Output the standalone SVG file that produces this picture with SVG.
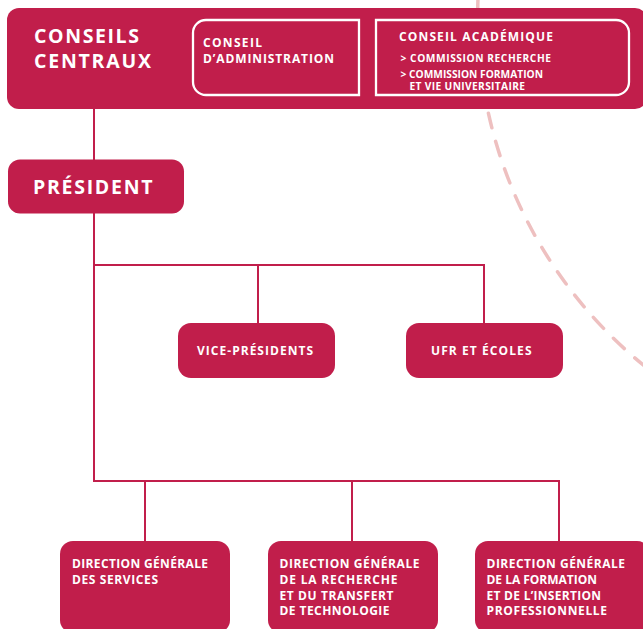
<svg xmlns="http://www.w3.org/2000/svg" width="643" height="629" viewBox="0 0 643 629">
<style>
.box{fill:#c11e4b;}
.in{fill:none;stroke:#ffffff;stroke-width:2.3;}
.ln{fill:none;stroke:#c11e4b;stroke-width:2;}
.dash{fill:none;stroke:#eec0c0;stroke-width:3.5;stroke-dasharray:15 14;stroke-linecap:round;}
text{font-family:"Open Sans","Liberation Sans",sans-serif;font-weight:700;fill:#ffffff;}
.big{font-size:19.5px;}
.mid{font-size:12px;}
.sm{font-size:10.2px;}
</style>
<rect width="643" height="629" fill="#ffffff"/>
<path class="dash" d="M 478 -2 A 452 452 0 0 0 652 372"/>
<g id="connectors">
<line class="ln" x1="94" y1="105" x2="94" y2="162"/>
<polyline class="ln" points="94,210 94,481 559,481 559,543"/>
<polyline class="ln" points="94,265 484,265 484,325"/>
<line class="ln" x1="258" y1="265" x2="258" y2="325"/>
<line class="ln" x1="145" y1="481" x2="145" y2="543"/>
<line class="ln" x1="352" y1="481" x2="352" y2="543"/>
</g>
<g id="conseils-centraux">
<rect class="box" x="7" y="8" width="640" height="101" rx="12"/>
<text class="big" x="34" y="43" textLength="105" lengthAdjust="spacing">CONSEILS</text>
<text class="big" x="34" y="68" textLength="117" lengthAdjust="spacing">CENTRAUX</text>
</g>
<g id="conseil-administration">
<path class="in" d="M 206 20 H 359 V 95 H 206 A 13 13 0 0 1 193 82 V 33 A 13 13 0 0 1 206 20 Z"/>
<text class="mid" x="203" y="46.5" textLength="59" lengthAdjust="spacing">CONSEIL</text>
<text class="mid" x="203" y="63" textLength="131" lengthAdjust="spacing">D’ADMINISTRATION</text>
</g>
<g id="conseil-academique">
<path class="in" d="M 376 20 H 616 A 13 13 0 0 1 629 33 V 82 A 13 13 0 0 1 616 95 H 376 Z"/>
<text class="mid" x="399" y="41" textLength="154" lengthAdjust="spacing">CONSEIL ACADÉMIQUE</text>
<text class="sm" x="400.5" y="62" textLength="150.5" lengthAdjust="spacing">&gt; COMMISSION RECHERCHE</text>
<text class="sm" x="400.5" y="77.5" textLength="142.5" lengthAdjust="spacing">&gt; COMMISSION FORMATION</text>
<text class="sm" x="409.5" y="90" textLength="115.5" lengthAdjust="spacing">ET VIE UNIVERSITAIRE</text>
</g>
<g id="president">
<rect class="box" x="8" y="159.5" width="176" height="54" rx="12"/>
<text class="big" x="33" y="194" textLength="119.5" lengthAdjust="spacing">PRÉSIDENT</text>
</g>
<g id="vice-presidents">
<rect class="box" x="178" y="323" width="157" height="55" rx="13"/>
<text class="mid" x="197" y="355" textLength="116" lengthAdjust="spacing">VICE-PRÉSIDENTS</text>
</g>
<g id="ufr-ecoles">
<rect class="box" x="406" y="323" width="157" height="55" rx="13"/>
<text class="mid" x="431" y="355" textLength="100.5" lengthAdjust="spacing">UFR ET ÉCOLES</text>
</g>
<g id="dg-services">
<rect class="box" x="60" y="541" width="170" height="92" rx="13"/>
<text class="mid" x="72" y="568" textLength="136" lengthAdjust="spacing">DIRECTION GÉNÉRALE</text>
<text class="mid" x="72" y="584" textLength="86" lengthAdjust="spacing">DES SERVICES</text>
</g>
<g id="dg-recherche">
<rect class="box" x="268" y="541" width="170" height="92" rx="13"/>
<text class="mid" x="279.5" y="568" textLength="140" lengthAdjust="spacing">DIRECTION GÉNÉRALE</text>
<text class="mid" x="279.5" y="584" textLength="118" lengthAdjust="spacing">DE LA RECHERCHE</text>
<text class="mid" x="279.5" y="599.5" textLength="114" lengthAdjust="spacing">ET DU TRANSFERT</text>
<text class="mid" x="279.5" y="615" textLength="110" lengthAdjust="spacing">DE TECHNOLOGIE</text>
</g>
<g id="dg-formation">
<rect class="box" x="475" y="541" width="175" height="92" rx="13"/>
<text class="mid" x="486.5" y="568" textLength="138.5" lengthAdjust="spacing">DIRECTION GÉNÉRALE</text>
<text class="mid" x="486.5" y="584" textLength="110.5" lengthAdjust="spacing">DE LA FORMATION</text>
<text class="mid" x="486.5" y="599.5" textLength="114.5" lengthAdjust="spacing">ET DE L’INSERTION</text>
<text class="mid" x="486.5" y="615" textLength="120.5" lengthAdjust="spacing">PROFESSIONNELLE</text>
</g>
</svg>
